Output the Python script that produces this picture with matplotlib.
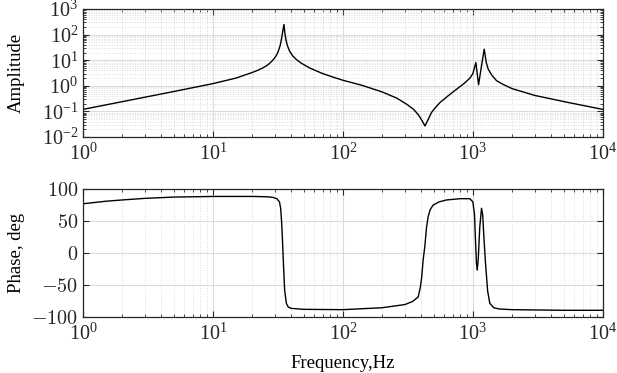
import matplotlib
matplotlib.use('Agg')
import matplotlib.pyplot as plt
from matplotlib import rcParams
from matplotlib.ticker import LogLocator, NullFormatter

rcParams['font.family'] = ['Liberation Serif', 'DejaVu Serif']
rcParams['mathtext.fontset'] = 'cm'
rcParams['axes.unicode_minus'] = True

# amplitude
amp_f = [1, 2, 5, 10, 15, 20, 22, 24, 26, 27, 28, 29, 30, 31, 32, 33, 33.8, 34.5, 35.2,
         35.8, 36.5, 37.5, 39, 41, 44, 48, 52, 56, 62, 70, 85,
         100, 140, 200, 260, 310, 350, 380, 405, 428, 450, 480, 520, 557, 650, 750,
         850, 950, 1000, 1055, 1106, 1222, 1270, 1312, 1400, 1520, 1700, 2000, 3000,
         5500, 10000]
amp_val = [0.12, 0.24, 0.6, 1.22, 2.0, 3.3, 4.0, 4.9, 6.2, 7.2, 8.5, 10.3, 12.8, 16.5,
           24, 40, 75, 140, 250, 110, 60, 36, 22, 15, 10.5, 7.6, 6.0, 4.9, 3.9, 3.0, 2.15,
           1.65, 1.05, 0.58, 0.33, 0.19, 0.12, 0.075, 0.045, 0.027, 0.045, 0.09, 0.15,
           0.22, 0.42, 0.74, 1.2, 2.0, 3.0, 8.1, 1.1, 27, 8.0, 4.5, 2.6, 1.6, 1.15, 0.78,
           0.42, 0.22, 0.12]

# phase
ph_f = [1, 1.5, 2, 3, 5, 10, 20, 26, 29, 31, 32.5, 33.2, 33.7, 34.2, 34.6, 35.1, 35.6,
        36.7, 38, 40, 50, 100, 200, 300, 345, 380, 395, 403, 415, 427, 440, 453, 470,
        495, 550, 628, 800, 948, 1000, 1030, 1050, 1065, 1080, 1100, 1130, 1166, 1190,
        1220, 1250, 1300, 1350, 1450, 1600, 2000, 5000, 10000]
ph_val = [77, 81, 83, 85.5, 87.5, 88.5, 88.5, 88, 87, 85, 80, 70, 51, 25, 0, -30, -58,
          -79, -85, -87, -88.5, -89, -86, -81, -76, -69, -53, -40, -10, 10, 40, 57, 68,
          75, 80, 83, 85, 85, 80, 60, 15, -15, -27, -10, 40, 70, 60, 20, -15, -60, -79,
          -86, -88, -89, -90, -90]

fig = plt.figure(figsize=(6.17, 3.73), dpi=100)
ax1 = fig.add_axes([0.1345, 0.6327, 0.8425, 0.343])
ax2 = fig.add_axes([0.1345, 0.151, 0.8425, 0.342])

ax1.loglog(amp_f, amp_val, color='black', linewidth=1.0)
ax1.set_xlim(1, 1e4)
ax1.set_ylim(1e-2, 1e3)
ax1.set_yticks([1e-2, 1e-1, 1e0, 1e1, 1e2, 1e3])
ax1.yaxis.set_minor_locator(LogLocator(base=10, subs=range(2, 10), numticks=20))
ax1.yaxis.set_minor_formatter(NullFormatter())
ax1.set_ylabel('Amplitude', fontsize=13.5)

ax2.semilogx(ph_f, ph_val, color='black', linewidth=1.0)
ax2.set_xlim(1, 1e4)
ax2.set_ylim(-100, 100)
ax2.set_yticks([-100, -50, 0, 50, 100])
ax2.set_yticklabels([r'$-100$', r'$-50$', r'$0$', r'$50$', r'$100$'])
ax2.set_ylabel('Phase, deg', fontsize=13.5)
ax2.set_xlabel('Frequency,Hz', fontsize=13.5, labelpad=7)

for ax in (ax1, ax2):
    ax.xaxis.set_minor_locator(LogLocator(base=10, subs=range(2, 10), numticks=20))
    ax.xaxis.set_minor_formatter(NullFormatter())
    ax.grid(True, which='major', color='#dcdcdc', linestyle='-', linewidth=0.8)
    ax.grid(True, which='minor', color='#dcdcdc', linestyle=':', linewidth=0.7)
    ax.set_axisbelow(True)
    ax.tick_params(which='both', direction='in', top=True, right=True,
                   colors='#262626', labelsize=14.5)
    ax.tick_params(which='major', length=4)
    ax.tick_params(which='minor', length=2)
    ax.tick_params(axis='x', which='major', pad=5)
    ax.yaxis.set_label_coords(-0.111, 0.5)
    for s in ax.spines.values():
        s.set_color('#262626')
        s.set_linewidth(0.9)

fig.savefig('out.png', dpi=100)
